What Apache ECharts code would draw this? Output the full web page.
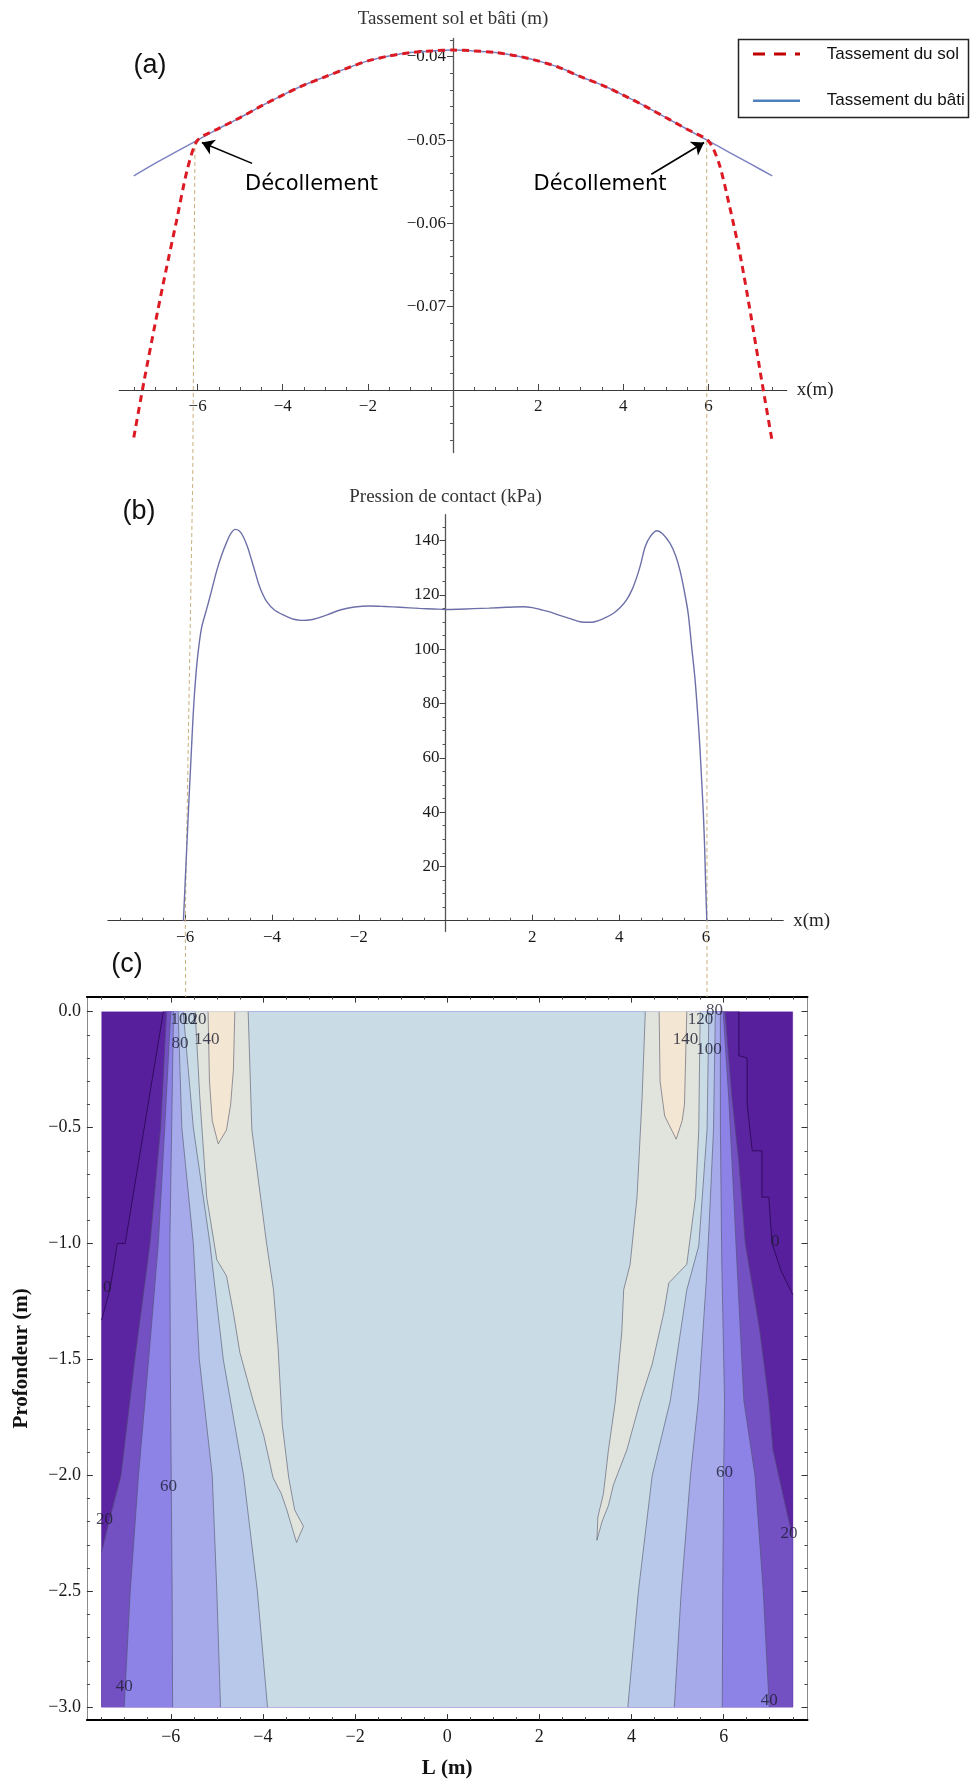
<!DOCTYPE html>
<html><head><meta charset="utf-8">
<script src="https://cdn.jsdelivr.net/npm/echarts@6/dist/echarts.min.js"></script>
<style>html,body{margin:0;padding:0;background:#fff}#c{width:972px;height:1783px}</style>
</head><body><div id="c"></div>
<script>
// ---------- Panel (a): settlement (m) ----------
const batiX = [-7.5,-7,-6.5,-6,-5.5,-5,-4.5,-4,-3.5,-3,-2.5,-2,-1.5,-1,-0.5,0,0.5,1,1.5,2,2.5,3,3.5,4,4.5,5,5.5,6,6.5,7,7.5];
const batiY = [-0.0543,-0.0528,-0.0514,-0.0500,-0.0486,-0.0473,-0.0459,-0.0446,-0.0434,-0.0424,-0.0414,-0.0405,-0.0399,-0.0395,-0.0393,-0.0392,-0.0393,-0.0395,-0.0399,-0.0405,-0.0413,-0.0424,-0.0434,-0.0446,-0.0459,-0.0473,-0.0487,-0.0501,-0.0515,-0.0529,-0.0543];
const solX = [-7.5,-7.25,-7,-6.75,-6.5,-6.25,-6,-5.5,-5,-4.5,-4,-3.5,-3,-2.5,-2,-1.5,-1,-0.5,0,0.5,1,1.5,2,2.5,3,3.5,4,4.5,5,5.5,6,6.25,6.5,6.75,7,7.25,7.5];
const solY = [-0.0857,-0.0787,-0.0721,-0.0658,-0.0598,-0.0537,-0.0500,-0.0486,-0.0473,-0.0459,-0.0446,-0.0434,-0.0424,-0.0414,-0.0405,-0.0399,-0.0395,-0.0393,-0.0392,-0.0393,-0.0395,-0.0399,-0.0405,-0.0413,-0.0424,-0.0434,-0.0446,-0.0459,-0.0473,-0.0487,-0.0501,-0.0528,-0.0580,-0.0639,-0.0711,-0.0788,-0.0862];
const aXTicks = [-6,-4,-2,2,4,6];
const aYTicks = [-0.08,-0.07,-0.06,-0.05,-0.04];
const aYLabels = [-0.07,-0.06,-0.05,-0.04];

// ---------- Panel (b): contact pressure (kPa) ----------
const presX = [-6.04,-6.0,-5.96,-5.92,-5.88,-5.84,-5.80,-5.75,-5.70,-5.62,-5.50,-5.40,-5.27,-5.15,-5.04,-4.95,-4.85,-4.75,-4.66,-4.56,-4.47,-4.38,-4.31,-4.22,-4.12,-3.95,-3.74,-3.5,-3.31,-3.1,-2.97,-2.7,-2.43,-2.1,-1.74,-1.4,-1.05,-0.6,-0.28,0,0.3,0.64,1.0,1.4,1.79,2.0,2.18,2.4,2.56,2.85,3.1,3.3,3.44,3.65,3.87,4.03,4.17,4.3,4.41,4.5,4.6,4.72,4.87,5.0,5.17,5.3,5.4,5.5,5.59,5.67,5.75,5.81,5.86,5.9,5.94,5.97,5.99,6.02];
const presY = [0,14,28,42,55,68,80,91,99,108,115,121,129,135,139.5,142.5,144.1,143.5,141.4,137.5,132.8,128,124.2,120.5,117.5,114.5,112.6,111.0,110.6,110.8,111.3,112.8,114.4,115.5,115.9,115.7,115.4,115.0,114.8,114.6,114.7,114.9,115.1,115.4,115.6,115.3,114.6,113.7,112.8,111.3,110.1,109.9,110.1,111.3,113.2,115.4,118.1,122,126.7,131.5,137.7,141.5,143.6,142.5,139,134.5,129.1,121.5,113.2,101,88.6,76,64,52,39.5,27,15,0];
const bXTicks = [-6,-4,-2,2,4,6];
const bYTicks = [20,40,60,80,100,120,140];

// ---------- Panel (c): contour lines (x = L (m), y = depth (m)) ----------
const C0_L   = [[-6.16,0],[-6.99,-1.0],[-7.16,-1.0],[-7.32,-1.2],[-7.5,-1.33]];
const C20_L  = [[-6.09,0],[-6.22,-0.5],[-6.45,-1.0],[-6.78,-1.5],[-7.08,-2.0],[-7.34,-2.2],[-7.5,-2.33]];
const C40_L  = [[-6.0,0],[-6.13,-0.5],[-6.27,-1.0],[-6.48,-1.5],[-6.7,-2.0],[-6.88,-2.5],[-7.01,-3.0]];
const C60_L  = [[-5.94,0],[-5.98,-0.5],[-6.02,-1.0],[-6.01,-1.5],[-5.99,-2.0],[-5.97,-2.5],[-5.96,-3.0]];
const C80_L  = [[-5.84,0],[-5.76,-0.5],[-5.51,-1.0],[-5.38,-1.5],[-5.1,-2.0],[-5.0,-2.5],[-4.92,-3.0]];
const C100_L = [[-5.73,0],[-5.51,-0.5],[-5.15,-1.0],[-4.86,-1.5],[-4.42,-2.0],[-4.12,-2.5],[-3.9,-3.0]];
const C120_L = [[-5.47,0],[-5.37,-0.37],[-5.22,-0.8],[-5.0,-1.07],[-4.79,-1.14],[-4.64,-1.3],[-4.5,-1.47],[-4.21,-1.68],[-3.98,-1.83],[-3.78,-2.01],[-3.6,-2.08],[-3.48,-2.15],[-3.27,-2.29],[-3.12,-2.22],[-3.31,-2.15],[-3.44,-2.01],[-3.58,-1.78],[-3.67,-1.45],[-3.77,-1.2],[-3.92,-1.0],[-4.24,-0.51],[-4.32,0]];
const C140_L = [[-5.19,0],[-5.16,-0.3],[-5.1,-0.47],[-4.97,-0.57],[-4.79,-0.51],[-4.7,-0.4],[-4.64,-0.25],[-4.61,0]];
const C0_R   = [[6.33,0],[6.33,-0.19],[6.51,-0.2],[6.51,-0.4],[6.62,-0.6],[6.83,-0.6],[6.83,-0.8],[6.98,-0.8],[7.05,-1.0],[7.25,-1.12],[7.5,-1.22]];
const C20_R  = [[6.03,0],[6.18,-0.37],[6.33,-0.65],[6.47,-1.0],[6.78,-1.37],[6.98,-1.68],[7.07,-1.89],[7.34,-2.13],[7.5,-2.27]];
const C40_R  = [[5.99,0],[6.11,-0.37],[6.22,-0.8],[6.29,-1.09],[6.44,-1.68],[6.68,-2.0],[6.86,-2.5],[6.99,-3.0]];
const C60_R  = [[5.93,0],[5.93,-0.51],[5.96,-1.09],[6.02,-1.68],[6.0,-2.0],[5.98,-2.5],[5.97,-3.0]];
const C80_R  = [[5.82,0],[5.78,-0.51],[5.68,-0.94],[5.62,-1.17],[5.53,-1.44],[5.45,-1.68],[5.28,-2.0],[5.08,-2.5],[4.93,-3.0]];
const C100_R = [[5.68,0],[5.64,-0.51],[5.46,-1.01],[5.2,-1.2],[5.02,-1.44],[4.84,-1.68],[4.45,-2.0],[4.15,-2.5],[3.92,-3.0]];
const C120_R = [[5.49,0],[5.46,-0.51],[5.39,-0.8],[5.2,-1.09],[4.81,-1.17],[4.7,-1.3],[4.45,-1.52],[4.19,-1.68],[3.9,-1.89],[3.61,-2.04],[3.5,-2.13],[3.36,-2.2],[3.25,-2.28],[3.27,-2.18],[3.39,-2.08],[3.5,-1.89],[3.65,-1.68],[3.79,-1.38],[3.83,-1.2],[3.97,-1.09],[4.12,-0.8],[4.23,-0.37],[4.3,0]];
const C140_R = [[4.6,0],[4.62,-0.3],[4.72,-0.45],[4.97,-0.55],[5.1,-0.47],[5.15,-0.4],[5.2,0]];
const contourLabels = [
  [-5.73,-0.033,'100'],[-5.50,-0.033,'120'],[-5.80,-0.136,'80'],[-5.22,-0.12,'140'],
  [-7.38,-1.19,'0'],[-6.05,-2.05,'60'],[-7.44,-2.19,'20'],[-7.01,-2.91,'40'],
  [5.80,0.005,'80'],[5.50,-0.036,'120'],[5.17,-0.122,'140'],[5.68,-0.162,'100'],
  [7.12,-0.99,'0'],[6.02,-1.99,'60'],[7.42,-2.25,'20'],[6.99,-2.97,'40']
];
const cXTicks = [-6,-4,-2,0,2,4,6];
const cYTicks = [-3,-2.5,-2,-1.5,-1,-0.5,0];

// colours of the bands (<0, 0-20, 20-40, 40-60, 60-80, 80-100, 100-120, 120-140, >140)
const bandColors = ['#581f9c','#5b24a1','#7351c3','#8d82e5','#a6a9ea','#b8c8ea','#c9dce6','#e1e3dd','#f3e7d3'];

// ---------- helpers ----------
const r6 = v => Math.round(v*1e6)/1e6;
function steps(a,b,s){const o=[];for(let i=0;;i++){const v=r6(a+i*s); if(v>b+1e-9) break; o.push(v);}return o;}
const minus = s => String(s).replace('-', '\u2212');
const serif = 'Liberation Serif';
const zip = (xs,ys) => xs.map((x,i)=>[x,ys[i]]);
const rev = a => a.slice().reverse();

const aXMinor = steps(-7.5,7.5,0.5).filter(v => Math.abs(v%2) > 1e-9);
const aYMinor = steps(-0.086,-0.038,0.002).filter(v => Math.abs(Math.round(v*100)-v*100) > 1e-6);
const bYMinor = steps(5,145,5).filter(v => v%20 !== 0);
const cXMinor = steps(-7.5,7.5,0.5).filter(v => Math.abs(v%2) > 1e-9);
const cYMinor = steps(-3,0,0.1).filter(v => Math.abs(Math.round(v*2)-v*2) > 1e-6);

// grid geometry (pixels)
const GA = {left:119.3, top:38.4, width:667.4, height:414.1};
const GB = {left:107.9, top:514.7, width:675.3, height:416.9};
const GC = {left:86.9, top:996.6, width:720.6, height:723.5};
const aXr = [-7.84,7.84], aYr = [-0.0875,-0.0378];
const bXr = [-7.78,7.78], bYr = [-4,149.5];
// axis crossing offsets (axes cross at x=0, and y=-0.08 in (a), y=0 in (b))
const aYoff = -(GA.width*(0-aXr[0])/(aXr[1]-aXr[0]));
const aXoff = -(GA.height*(-0.08-aYr[0])/(aYr[1]-aYr[0]));
const bYoff = -(GB.width*(0-bXr[0])/(bXr[1]-bXr[0]));
const bXoff = -(GB.height*(0-bYr[0])/(bYr[1]-bYr[0]));

// band polygons (painter's order)
const BL=[-7.5,-3], BR=[7.5,-3];
const polys = [
  {pts:[[-7.5,0],[7.5,0],BR,BL], fill:bandColors[0]},
  {pts:[...C0_L, BL, BR, ...rev(C0_R)], fill:bandColors[1]},
  {pts:[...C20_L, BL, BR, ...rev(C20_R)], fill:bandColors[2]},
  {pts:[...C40_L, ...rev(C40_R)], fill:bandColors[3]},
  {pts:[...C60_L, ...rev(C60_R)], fill:bandColors[4]},
  {pts:[...C80_L, ...rev(C80_R)], fill:bandColors[5]},
  {pts:[...C100_L, ...rev(C100_R)], fill:bandColors[6]},
  {pts:C120_L, fill:bandColors[7]},
  {pts:C120_R, fill:bandColors[7]},
  {pts:C140_L, fill:bandColors[8]},
  {pts:C140_R, fill:bandColors[8]}
];
const lines = [
  {pts:C0_L, dark:true},{pts:C0_R, dark:true},
  {pts:C20_L},{pts:C20_R},{pts:C40_L},{pts:C40_R},{pts:C60_L},{pts:C60_R},
  {pts:C80_L},{pts:C80_R},{pts:C100_L},{pts:C100_R},{pts:C120_L},{pts:C120_R},{pts:C140_L},{pts:C140_R}
];

const lblStyle = (size) => ({fontFamily:serif, fontSize:size, color:'#1a1a1a'});
function frameAxis(dim, grid, pos, major, minor, opts){
  const isX = dim==='x';
  const base = {gridIndex:grid, type:'value', position:pos, splitLine:{show:false},
    min: isX? -7.82 : -3.056, max: isX? 7.82 : 0.065};
  const ax1 = Object.assign({}, base, {
    axisLine:{onZero:false, lineStyle:opts.line},
    axisTick:{inside:true, length:6, customValues:major, lineStyle:{color:'#333'}},
    axisLabel: opts.labels ? Object.assign({customValues:major, margin: isX?8:6, formatter:v=>minus(v.toFixed(isX?0:1))}, lblStyle(18)) : {show:false}
  }, opts.extra||{});
  const ax2 = Object.assign({}, base, {
    axisLine:{show:false, onZero:false},
    axisTick:{inside:true, length:3, customValues:minor, lineStyle:{color:'#444'}},
    axisLabel:{show:false}
  });
  return [ax1, ax2];
}

const option = {
  animation:false,
  backgroundColor:'#fff',
  grid:[GA, GB, GC],
  xAxis:[
    {gridIndex:0, type:'value', min:aXr[0], max:aXr[1], position:'bottom', offset:aXoff,
     axisLine:{onZero:false, lineStyle:{color:'#3a3a3a', width:1.2}},
     axisTick:{inside:true, length:6, customValues:aXTicks, lineStyle:{color:'#444'}},
     axisLabel:Object.assign({customValues:aXTicks, margin:8, formatter:v=>minus(v)}, lblStyle(17)),
     splitLine:{show:false}, name:'x(m)', nameLocation:'end', nameGap:10,
     nameTextStyle:{fontFamily:serif, fontSize:19, color:'#222'}},
    {gridIndex:0, type:'value', min:aXr[0], max:aXr[1], position:'bottom', offset:aXoff,
     axisLine:{show:false, onZero:false},
     axisTick:{inside:true, length:3, customValues:aXMinor, lineStyle:{color:'#555'}},
     axisLabel:{show:false}, splitLine:{show:false}},
    {gridIndex:1, type:'value', min:bXr[0], max:bXr[1], position:'bottom', offset:bXoff,
     axisLine:{onZero:false, lineStyle:{color:'#3a3a3a', width:1.2}},
     axisTick:{inside:true, length:6, customValues:bXTicks, lineStyle:{color:'#444'}},
     axisLabel:Object.assign({customValues:bXTicks, margin:8, formatter:v=>minus(v)}, lblStyle(17)),
     splitLine:{show:false}, name:'x(m)', nameLocation:'end', nameGap:10,
     nameTextStyle:{fontFamily:serif, fontSize:19, color:'#222'}},
    {gridIndex:1, type:'value', min:bXr[0], max:bXr[1], position:'bottom', offset:bXoff,
     axisLine:{show:false, onZero:false},
     axisTick:{inside:true, length:3, customValues:aXMinor, lineStyle:{color:'#555'}},
     axisLabel:{show:false}, splitLine:{show:false}},
    ...frameAxis('x',2,'bottom',cXTicks,cXMinor,{line:{color:'#000',width:2}, labels:true,
      extra:{name:'L (m)', nameLocation:'middle', nameGap:38, nameTextStyle:{fontFamily:serif, fontSize:21, fontWeight:'bold', color:'#111'}}}),
    ...frameAxis('x',2,'top',cXTicks,cXMinor,{line:{color:'#000',width:2}, labels:false})
  ],
  yAxis:[
    {gridIndex:0, type:'value', min:aYr[0], max:aYr[1], position:'left', offset:aYoff,
     axisLine:{onZero:false, lineStyle:{color:'#555', width:1.3}},
     axisTick:{inside:false, length:6, customValues:aYTicks, lineStyle:{color:'#444'}},
     axisLabel:Object.assign({customValues:aYLabels, margin:7, formatter:v=>minus(v.toFixed(2))}, lblStyle(17)),
     splitLine:{show:false}, name:'Tassement sol et bâti (m)', nameLocation:'end', nameGap:10,
     nameTextStyle:{fontFamily:serif, fontSize:19, color:'#333'}},
    {gridIndex:0, type:'value', min:aYr[0], max:aYr[1], position:'left', offset:aYoff,
     axisLine:{show:false, onZero:false},
     axisTick:{inside:false, length:3, customValues:aYMinor, lineStyle:{color:'#555'}},
     axisLabel:{show:false}, splitLine:{show:false}},
    {gridIndex:1, type:'value', min:bYr[0], max:bYr[1], position:'left', offset:bYoff,
     axisLine:{onZero:false, lineStyle:{color:'#555', width:1.3}},
     axisTick:{inside:false, length:6, customValues:bYTicks, lineStyle:{color:'#444'}},
     axisLabel:Object.assign({customValues:bYTicks, margin:6}, lblStyle(17)),
     splitLine:{show:false}, name:'Pression de contact (kPa)', nameLocation:'end', nameGap:8,
     nameTextStyle:{fontFamily:serif, fontSize:19, color:'#333'}},
    {gridIndex:1, type:'value', min:bYr[0], max:bYr[1], position:'left', offset:bYoff,
     axisLine:{show:false, onZero:false},
     axisTick:{inside:false, length:3, customValues:bYMinor, lineStyle:{color:'#555'}},
     axisLabel:{show:false}, splitLine:{show:false}},
    ...frameAxis('y',2,'left',cYTicks,cYMinor,{line:{color:'#8a8a8a',width:1}, labels:true,
      extra:{name:'Profondeur (m)', nameLocation:'middle', nameGap:55, nameRotate:90, nameTextStyle:{fontFamily:serif, fontSize:21, fontWeight:'bold', color:'#111'}}}),
    ...frameAxis('y',2,'right',cYTicks,cYMinor,{line:{color:'#8a8a8a',width:1}, labels:false})
  ],
  series:[
    {type:'line', name:'Tassement du bâti', xAxisIndex:0, yAxisIndex:0, data:zip(batiX,batiY),
     showSymbol:false, smooth:0.3, lineStyle:{color:'#7d82c2', width:1.5}, z:2,
     markLine:{silent:true, symbol:['none','arrow'], symbolSize:12, animation:false,
       label:{show:false}, lineStyle:{color:'#000', width:1.6, type:'solid'},
       data:[[{coord:[-4.72,-0.0528]},{coord:[-5.9,-0.0503]}],[{coord:[4.66,-0.0541]},{coord:[5.9,-0.0503]}]]}},
    {type:'line', name:'Tassement du sol', xAxisIndex:0, yAxisIndex:0, data:zip(solX,solY),
     showSymbol:false, smooth:0.25, lineStyle:{color:'#dc1a24', width:3, type:[7,5]}, z:3},
    {type:'line', name:'Pression', xAxisIndex:2, yAxisIndex:2, data:zip(presX,presY),
     showSymbol:false, smooth:0.3, lineStyle:{color:'#6d70a8', width:1.4}, z:3},
    {type:'custom', xAxisIndex:4, yAxisIndex:4, silent:true, clip:true,
     data:polys.map((p,i)=>[0,-1,i]), encode:{x:0,y:1},
     renderItem:(params, api)=>{const p=polys[params.dataIndex];
       return {type:'polygon', shape:{points:p.pts.map(q=>api.coord(q))}, style:{fill:p.fill, stroke:p.fill, lineWidth:0.3}};}},
    {type:'custom', xAxisIndex:4, yAxisIndex:4, silent:true, clip:true, z:3,
     data:lines.map((p,i)=>[0,-1,i]), encode:{x:0,y:1},
     renderItem:(params, api)=>{const p=lines[params.dataIndex];
       return {type:'polyline', shape:{points:p.pts.map(q=>api.coord(q))},
         style:{fill:null, stroke:p.dark?'rgba(45,10,90,0.9)':'rgba(70,70,95,0.55)', lineWidth:1}};}},
    {type:'scatter', xAxisIndex:4, yAxisIndex:4, silent:true, z:5, symbolSize:0,
     data:contourLabels,
     label:{show:true, position:'inside', formatter:p=>p.value[2], fontFamily:serif, fontSize:17, color:'#1c1c30'}}
  ],
  graphic:[
    {type:'polyline', silent:true, z:1, shape:{points:[[195,141],[192.7,480],[185.3,920],[185.7,997]]},
     style:{fill:null, stroke:'#c8b07a', lineWidth:1, lineDash:[4,3]}},
    {type:'polyline', silent:true, z:1, shape:{points:[[706.7,141],[707,997]]},
     style:{fill:null, stroke:'#c8b07a', lineWidth:1, lineDash:[4,3]}},
    {type:'text', x:150, y:66, style:{text:'(a)', font:'27px "Liberation Sans"', fill:'#111', align:'center', verticalAlign:'middle', textAlign:'center', textVerticalAlign:'middle'}},
    {type:'text', x:139, y:512, style:{text:'(b)', font:'27px "Liberation Sans"', fill:'#111', align:'center', verticalAlign:'middle', textAlign:'center', textVerticalAlign:'middle'}},
    {type:'text', x:127, y:965, style:{text:'(c)', font:'27px "Liberation Sans"', fill:'#111', align:'center', verticalAlign:'middle', textAlign:'center', textVerticalAlign:'middle'}},
    {type:'text', x:311.5, y:185, style:{text:'Décollement', font:'21px "DejaVu Sans"', fill:'#000', align:'center', verticalAlign:'middle', textAlign:'center', textVerticalAlign:'middle'}},
    {type:'text', x:600, y:185, style:{text:'Décollement', font:'21px "DejaVu Sans"', fill:'#000', align:'center', verticalAlign:'middle', textAlign:'center', textVerticalAlign:'middle'}},
    {type:'rect', z:10, shape:{x:738.5, y:39.5, width:230, height:78}, style:{fill:'#fff', stroke:'#222', lineWidth:1.5}},
    {type:'line', z:11, shape:{x1:753, y1:54, x2:800, y2:54}, style:{stroke:'#c00000', lineWidth:3, lineDash:[12,9]}},
    {type:'line', z:11, shape:{x1:753, y1:100.7, x2:800, y2:100.7}, style:{stroke:'#4f81bd', lineWidth:2.5}},
    {type:'text', z:11, x:826.7, y:54, style:{text:'Tassement du sol', font:'17px "Liberation Sans"', fill:'#111', align:'left', verticalAlign:'middle', textAlign:'left', textVerticalAlign:'middle'}},
    {type:'text', z:11, x:826.7, y:100.7, style:{text:'Tassement du bâti', font:'17px "Liberation Sans"', fill:'#111', align:'left', verticalAlign:'middle', textAlign:'left', textVerticalAlign:'middle'}}
  ]
};
const chart = echarts.init(document.getElementById('c'), null, {renderer:'canvas', width:972, height:1783});
chart.setOption(option);
</script>
</body></html>
